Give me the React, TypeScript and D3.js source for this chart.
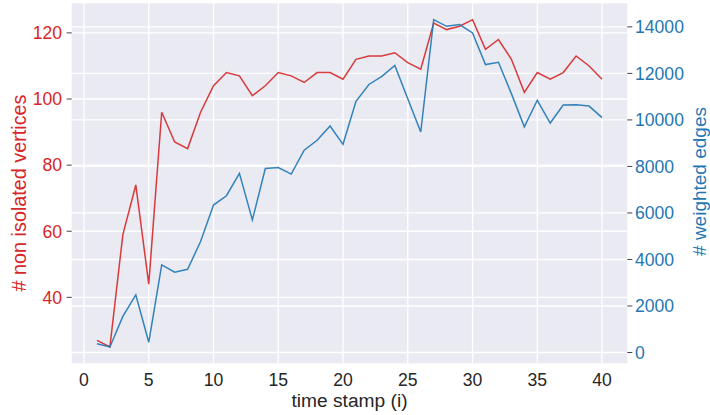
import React from "react";
import * as d3 from "d3";

const timeStamps = d3.range(1, 41);
const nonIsolatedVertices = [
  27, 25, 59, 74, 44, 96, 87, 85, 96, 104,
  108, 107, 101, 104, 108, 107, 105, 108, 108, 106,
  112, 113, 113, 114, 111, 109, 123, 121, 122, 124,
  115, 118, 112, 102, 108, 106, 108, 113, 110, 106,
];
const weightedEdges = [
  380, 240, 1550, 2480, 440, 3770, 3455, 3580, 4770, 6340,
  6740, 7700, 5700, 7910, 7955, 7670, 8700, 9125, 9740, 8950,
  10800, 11525, 11870, 12340, 10910, 9480, 14310, 14025, 14100, 13740,
  12380, 12480, 11130, 9700, 10845, 9865, 10640, 10655, 10595, 10100,
];
const xTicks = [0, 5, 10, 15, 20, 25, 30, 35, 40];
const leftTicks = [40, 60, 80, 100, 120];
const rightTicks = [0, 2000, 4000, 6000, 8000, 10000, 12000, 14000];

const W = 710;
const H = 415;
const L = 71.7, R = 627.3, T = 3.3, B = 363.3;
const RED = "#d62728";
const BLUE = "#1f77b4";
const FONT = "'Liberation Sans', Arial, sans-serif";

function padded(vals: number[]): [number, number] {
  const mn = d3.min(vals)!;
  const mx = d3.max(vals)!;
  const m = (mx - mn) * 0.05;
  return [mn - m, mx + m];
}

export default function App() {
  const x = d3.scaleLinear().domain(padded(timeStamps)).range([L, R]);
  const yL = d3.scaleLinear().domain(padded(nonIsolatedVertices)).range([B, T]);
  const yR = d3.scaleLinear().domain(padded(weightedEdges)).range([B, T]);

  const lineL = d3
    .line<number>()
    .x((_, i) => x(timeStamps[i]))
    .y((d) => yL(d));
  const lineR = d3
    .line<number>()
    .x((_, i) => x(timeStamps[i]))
    .y((d) => yR(d));

  return (
    <svg
      width={W}
      height={H}
      style={{ position: "absolute", left: 0, top: 0, fontFamily: FONT }}
    >
      <rect x={L} y={T} width={R - L} height={B - T} fill="#EAEAF2" />
      {xTicks.map((t) => (
        <line key={"gx" + t} x1={x(t)} x2={x(t)} y1={T} y2={B} stroke="#fff" strokeWidth={1.3} />
      ))}
      {leftTicks.map((t) => (
        <line key={"gl" + t} x1={L} x2={R} y1={yL(t)} y2={yL(t)} stroke="#fff" strokeWidth={1.3} />
      ))}
      {rightTicks.map((t) => (
        <line key={"gr" + t} x1={L} x2={R} y1={yR(t)} y2={yR(t)} stroke="#fff" strokeWidth={1.3} />
      ))}
      <path d={lineL(nonIsolatedVertices)!} fill="none" stroke={RED} strokeWidth={1.5} strokeOpacity={0.9} />
      <path d={lineR(weightedEdges)!} fill="none" stroke={BLUE} strokeWidth={1.5} strokeOpacity={0.9} />

      {xTicks.map((t) => (
        <text key={"tx" + t} x={x(t)} y={385.8} textAnchor="middle" fontSize={17.6} fill="#262626">
          {t}
        </text>
      ))}
      {leftTicks.map((t) => (
        <g key={"tl" + t}>
          <line x1={L - 5} x2={L} y1={yL(t)} y2={yL(t)} stroke="#444" strokeWidth={1} />
          <text x={62} y={yL(t)} dy="0.36em" textAnchor="end" fontSize={17.6} fill={RED}>
            {t}
          </text>
        </g>
      ))}
      {rightTicks.map((t) => (
        <g key={"tr" + t}>
          <line x1={R} x2={R + 5} y1={yR(t)} y2={yR(t)} stroke="#444" strokeWidth={1} />
          <text x={635} y={yR(t)} dy="0.36em" textAnchor="start" fontSize={17.6} fill={BLUE}>
            {t}
          </text>
        </g>
      ))}
      <text x={(L + R) / 2} y={407} textAnchor="middle" fontSize={19.2} fill="#262626">
        time stamp (i)
      </text>
      <text
        transform={`translate(25.5,193) rotate(-90)`}
        textAnchor="middle"
        fontSize={19.8}
        fill={RED}
      >
        # non isolated vertices
      </text>
      <text
        transform={`translate(705.5,181.5) rotate(-90)`}
        textAnchor="middle"
        fontSize={19}
        fill={BLUE}
      >
        # weighted edges
      </text>
    </svg>
  );
}
